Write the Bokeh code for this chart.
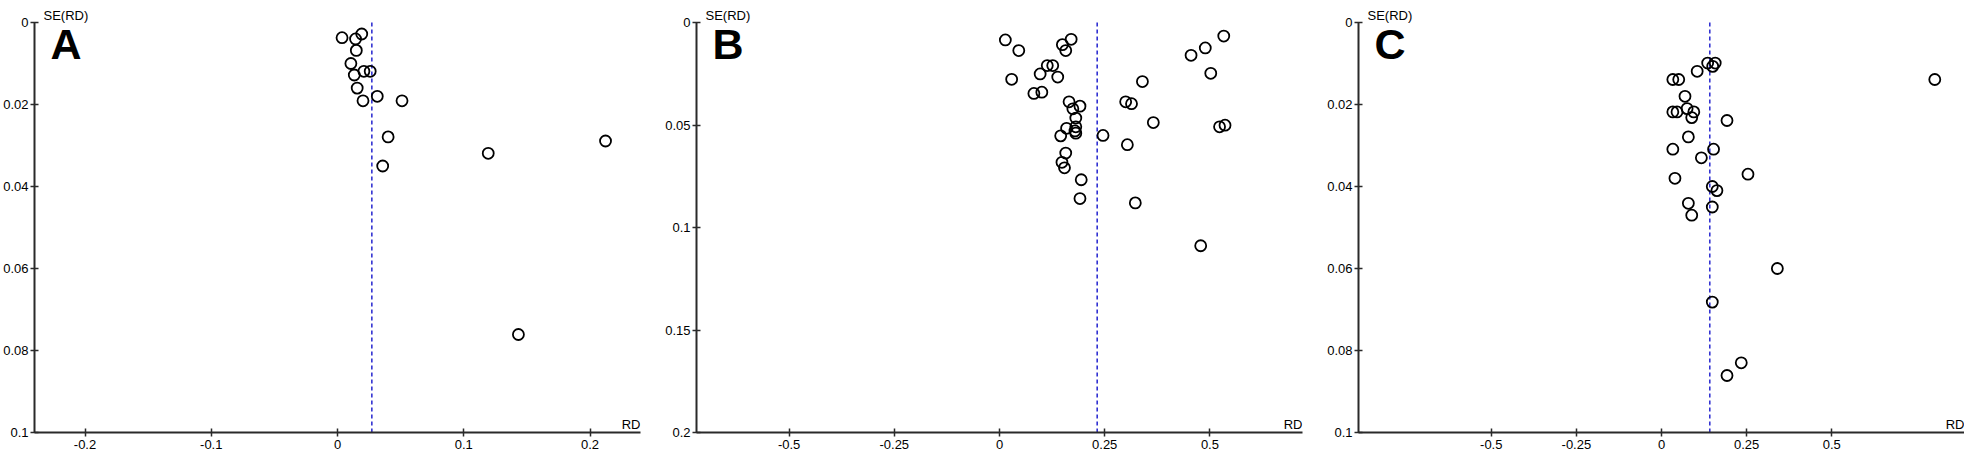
from bokeh.plotting import figure
from bokeh.layouts import row
from bokeh.models import FixedTicker, Range1d, Label, NumeralTickFormatter
from bokeh.embed import file_html
from bokeh.resources import INLINE

# ---------------- data ----------------
# Panel A
a_rd = [0.0036, 0.0192, 0.0143, 0.0149, 0.0106, 0.0133, 0.0209, 0.0259, 0.0156,
        0.0202, 0.0315, 0.0511, 0.0401, 0.0358, 0.1194, 0.2123, 0.1433]
a_se = [0.0037, 0.0028, 0.0040, 0.0068, 0.0100, 0.0128, 0.0119, 0.0119, 0.0160,
        0.0191, 0.0180, 0.0191, 0.0279, 0.0350, 0.0319, 0.0289, 0.0761]
a_pooled = 0.0272
a_xticks = [-0.2, -0.1, 0, 0.1, 0.2]
a_yticks = [0, 0.02, 0.04, 0.06, 0.08, 0.1]

# Panel B
b_rd = [0.0139, 0.0458, 0.1494, 0.1574, 0.1703, 0.1135, 0.1265, 0.0966, 0.1384, 0.0289,
        0.0817, 0.1006, 0.1653, 0.1912, 0.1743, 0.1813, 0.1813, 0.1594, 0.1793, 0.1813,
        0.1454, 0.2460, 0.1574, 0.1484, 0.1544, 0.1942, 0.1912, 0.2998, 0.3137, 0.3038,
        0.3227, 0.3396, 0.3655, 0.4552, 0.4890, 0.5329, 0.5020, 0.5229, 0.5359, 0.4781]
b_se = [0.0085, 0.0137, 0.0108, 0.0137, 0.0082, 0.0210, 0.0210, 0.0251, 0.0266, 0.0277,
        0.0346, 0.0340, 0.0387, 0.0408, 0.0421, 0.0466, 0.0509, 0.0516, 0.0529, 0.0540,
        0.0553, 0.0551, 0.0637, 0.0682, 0.0709, 0.0767, 0.0859, 0.0387, 0.0396, 0.0596,
        0.0880, 0.0288, 0.0488, 0.0160, 0.0124, 0.0066, 0.0248, 0.0509, 0.0501, 0.1089]
b_pooled = 0.2321
b_xticks = [-0.5, -0.25, 0, 0.25, 0.5]
b_yticks = [0, 0.05, 0.1, 0.15, 0.2]

# Panel C
c_rd = [0.1356, 0.1578, 0.1504, 0.1048, 0.0333, 0.0506, 0.8027, 0.0690, 0.0752, 0.0333,
        0.0456, 0.0949, 0.0888, 0.1924, 0.0789, 0.0333, 0.1529, 0.1171, 0.0395, 0.2540,
        0.1492, 0.1628, 0.0789, 0.1492, 0.0888, 0.3403, 0.1492, 0.2343, 0.1924]
c_se = [0.0099, 0.0099, 0.0107, 0.0119, 0.0139, 0.0139, 0.0139, 0.0180, 0.0210, 0.0218,
        0.0218, 0.0218, 0.0232, 0.0239, 0.0279, 0.0309, 0.0309, 0.0330, 0.0380, 0.0370,
        0.0400, 0.0410, 0.0441, 0.0450, 0.0470, 0.0600, 0.0682, 0.0830, 0.0861]
c_pooled = 0.1418
c_xticks = [-0.5, -0.25, 0, 0.25, 0.5]
c_yticks = [0, 0.02, 0.04, 0.06, 0.08, 0.1]

panels = [
    ("A", a_rd, a_se, a_pooled, (-0.24, 0.24), 0.1, a_xticks, a_yticks),
    ("B", b_rd, b_se, b_pooled, (-0.72, 0.72), 0.2, b_xticks, b_yticks),
    ("C", c_rd, c_se, c_pooled, (-0.89, 0.89), 0.1, c_xticks, c_yticks),
]

FONT = "Liberation Sans"
AXIS_COLOR = "#2a2a2a"
LEFT, BOTTOM, FW = 31, 24, 609
AXIS_H = 410      # pixel height from the 0 tick to the bottom axis
HEAD = 22         # pixels of frame above the 0 tick (room for "SE(RD)")


def make_panel(letter, rd, se, pooled, xr, ymax, xticks, yticks, right_border):
    top_pad = ymax * HEAD / AXIS_H
    p = figure(width=LEFT + FW + right_border, height=HEAD + AXIS_H + BOTTOM,
               output_backend="svg", toolbar_location=None, title=None,
               x_range=Range1d(*xr), y_range=Range1d(ymax, -top_pad),
               min_border_left=LEFT, min_border_right=right_border,
               min_border_top=0, min_border_bottom=BOTTOM)
    p.outline_line_color = None
    p.grid.visible = False
    p.background_fill_color = "white"
    p.border_fill_color = "white"

    for ax, ticks in ((p.xaxis, xticks), (p.yaxis, yticks)):
        ax.ticker = FixedTicker(ticks=ticks)
        ax.formatter = NumeralTickFormatter(format="0.[00]")
        ax.minor_tick_line_color = None
        ax.axis_line_width = 2
        ax.axis_line_color = AXIS_COLOR
        ax.major_tick_line_color = AXIS_COLOR
        ax.major_tick_line_width = 1.5
        ax.major_tick_in = 4
        ax.major_tick_out = 4
        ax.major_label_text_font = FONT
        ax.major_label_text_font_size = "13px"
        ax.major_label_text_color = "#000000"
    p.yaxis.bounds = (0, ymax)
    p.yaxis.major_label_standoff = 2
    p.xaxis.major_label_standoff = 3

    # pooled estimate (dashed vertical line from SE=0 to the bottom)
    p.segment(x0=[pooled], y0=[0], x1=[pooled], y1=[ymax], line_color="#3232d2",
              line_width=1.6, line_dash="4 3")

    p.scatter(rd, se, size=11, marker="circle", fill_color=None,
              line_color="black", line_width=1.8)

    p.add_layout(Label(x=xr[0], y=0, x_offset=9, y_offset=7, text="SE(RD)",
                       text_font=FONT, text_font_size="13px",
                       text_baseline="alphabetic", text_align="left",
                       text_color="#000000"))
    p.add_layout(Label(x=xr[1], y=ymax, x_offset=0, y_offset=8, text="RD",
                       text_font=FONT, text_font_size="13px",
                       text_baseline="alphabetic", text_align="right",
                       text_color="#000000"))
    p.add_layout(Label(x=xr[0], y=0, x_offset=16, y_offset=3, text=letter,
                       text_font=FONT, text_font_size="43px",
                       text_font_style="bold", text_baseline="top",
                       text_align="left", text_color="black"))
    return p


figs = []
borders = [22, 22, 0]
for (letter, rd, se, pooled, xr, ymax, xt, yt), rb in zip(panels, borders):
    figs.append(make_panel(letter, rd, se, pooled, xr, ymax, xt, yt, rb))

layout = row(*figs, spacing=0)
open("out.html", "w").write(file_html(layout, INLINE))
